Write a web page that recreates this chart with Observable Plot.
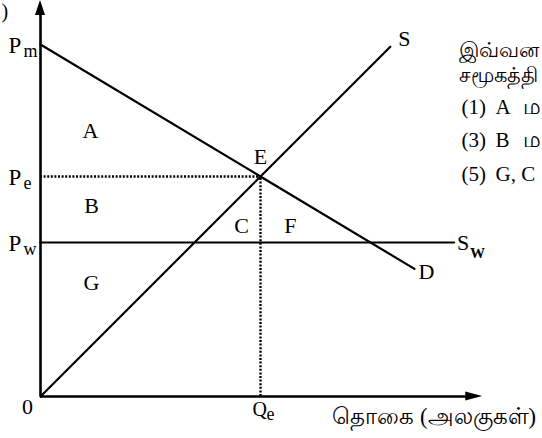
<!DOCTYPE html>
<html>
<head>
<meta charset="utf-8">
<script src="https://cdn.jsdelivr.net/npm/d3@7"></script>
<script src="https://cdn.jsdelivr.net/npm/@observablehq/plot@0.6"></script>
<style>
  html, body { margin: 0; padding: 0; background: #fff; }
  #chart svg { display: block; }
</style>
</head>
<body>
<div id="chart"></div>
<script>
// ---- values ----
const Pm = 16;          // demand intercept price
const Pe = 10;          // equilibrium price
const Pw = 7;           // world price
const Qe = 10;          // equilibrium quantity
const demandQ = [0, 17];
const demandP = [16, 5.8];
const supplyQ = [0, 15.9];
const supplyP = [0, 15.9];
const worldQ = [0, 18.8];
const worldP = [7, 7];
const yAxisTop = 18;
const xAxisEnd = 20.1;

const regionNames = ["A", "B", "C", "F", "G"];
const regionQ = [2.27, 2.32, 9.14, 11.36, 2.32];
const regionP = [11.77, 8.32, 7.45, 7.45, 4.86];

const priceLabels = ["P", "P", "P"];
const priceSubs = ["m", "e", "w"];
const priceValues = [Pm, Pe, Pw];

const xTitle = "தொகை (அலகுகள்)";
const sideLines = ["இவ்வன", "சமூகத்தி"];
const optionNums = ["(1)", "(3)", "(5)"];
const optionLetters = ["A", "B", "G, C"];
const optionTamil = ["ம", "ம", ""];

// ---- build tables ----
const demand = demandQ.map((q, i) => ({q, p: demandP[i]}));
const supply = supplyQ.map((q, i) => ({q, p: supplyP[i]}));
const world = worldQ.map((q, i) => ({q, p: worldP[i]}));
const regions = regionNames.map((t, i) => ({t, q: regionQ[i], p: regionP[i]}));
const prices = priceValues.map((v, i) => ({v, P: priceLabels[i], s: priceSubs[i]}));

const serif = "'Liberation Serif', 'Times New Roman', serif";
const hx = 0.227, hy = 0.2; // arrowhead half-widths in data units

// side text placement (pixel offsets from the top-left corner)
const sideBaselines = [56, 81];
const optionBaselines = [113, 146, 180];

const sideMarks = [
  ...sideLines.map((t, i) => Plot.text([t], {frameAnchor: "top-left", text: d => d, fontSize: 21, lineAnchor: "bottom", textAnchor: "start", dx: 458, dy: sideBaselines[i]})),
  ...optionNums.map((t, i) => Plot.text([t], {frameAnchor: "top-left", text: d => d, fontSize: 21, lineAnchor: "bottom", textAnchor: "start", dx: 461, dy: optionBaselines[i]})),
  ...optionLetters.map((t, i) => Plot.text([t], {frameAnchor: "top-left", text: d => d, fontSize: 21, lineAnchor: "bottom", textAnchor: "start", dx: 495, dy: optionBaselines[i]})),
  ...optionTamil.map((t, i) => Plot.text([t], {frameAnchor: "top-left", text: d => d, fontSize: 22, lineAnchor: "bottom", textAnchor: "start", dx: 522, dy: optionBaselines[i]}))
];

const chart = Plot.plot({
  width: 542,
  height: 438,
  margin: 0,
  x: {domain: [0, 20], range: [40, 480], axis: null},
  y: {domain: [0, 18], range: [396, 0], axis: null},
  style: {background: "white", fontFamily: serif, color: "black"},
  marks: [
    // axes
    Plot.ruleX([0], {y1: 0, y2: yAxisTop - 0.6, stroke: "black", strokeWidth: 2.6}),
    Plot.ruleY([0], {x1: 0, x2: xAxisEnd - 0.7, stroke: "black", strokeWidth: 2.6}),
    Plot.areaX([{y: yAxisTop - 0.68, x1: -hx, x2: hx}, {y: yAxisTop, x1: 0, x2: 0}],
      {y: "y", x1: "x1", x2: "x2", fill: "black"}),
    Plot.areaY([{x: xAxisEnd - 0.77, y1: -hy, y2: hy}, {x: xAxisEnd, y1: 0, y2: 0}],
      {x: "x", y1: "y1", y2: "y2", fill: "black"}),
    // dotted guides
    Plot.ruleY([Pe], {x1: 0, x2: Qe, stroke: "black", strokeWidth: 2.4, strokeDasharray: "2,1.6"}),
    Plot.ruleX([Qe], {y1: 0, y2: Pe, stroke: "black", strokeWidth: 2.4, strokeDasharray: "2,1.6"}),
    // curves
    Plot.line(world, {x: "q", y: "p", stroke: "black", strokeWidth: 2.2}),
    Plot.line(demand, {x: "q", y: "p", stroke: "black", strokeWidth: 2.2}),
    Plot.line(supply, {x: "q", y: "p", stroke: "black", strokeWidth: 2.2}),
    // region letters
    Plot.text(regions, {x: "q", y: "p", text: "t", fontSize: 22, lineAnchor: "bottom", fill: "black"}),
    // E
    Plot.text([{q: Qe, p: Pe}], {x: "q", y: "p", text: () => "E", fontSize: 22, lineAnchor: "bottom", dy: -13}),
    // curve labels
    Plot.text([supply[1]], {x: "q", y: "p", text: () => "S", fontSize: 22, lineAnchor: "bottom", dx: 14, dy: -1}),
    Plot.text([demand[1]], {x: "q", y: "p", text: () => "D", fontSize: 22, lineAnchor: "bottom", dx: 12, dy: 10}),
    Plot.text([world[1]], {x: "q", y: "p", text: () => "S", fontSize: 22, lineAnchor: "bottom", textAnchor: "start", dx: 3, dy: 7}),
    Plot.text([world[1]], {x: "q", y: "p", text: () => "W", fontSize: 15, fontWeight: "bold", lineAnchor: "bottom", textAnchor: "start", dx: 16, dy: 15}),
    // price labels
    Plot.text(prices, {x: 0, y: "v", text: "P", fontSize: 23, lineAnchor: "bottom", textAnchor: "start", dx: -32, dy: 8}),
    Plot.text(prices, {x: 0, y: "v", text: "s", fontSize: 18, lineAnchor: "bottom", textAnchor: "start", dx: -17, dy: 12}),
    // origin and Qe
    Plot.text([0], {x: 0, y: 0, text: () => "0", fontSize: 22, lineAnchor: "bottom", dx: -13, dy: 17}),
    Plot.text([Qe], {x: d => d, y: 0, text: () => "Q", fontSize: 20, lineAnchor: "bottom", textAnchor: "start", dx: -8, dy: 19}),
    Plot.text([Qe], {x: d => d, y: 0, text: () => "e", fontSize: 18, lineAnchor: "bottom", textAnchor: "start", dx: 6, dy: 23}),
    // x axis title
    Plot.text([xTitle], {x: 13.27, y: 0, text: d => d, fontSize: 22.5, lineAnchor: "bottom", textAnchor: "start", dy: 27}),
    // clipped y-axis title remnant
    Plot.text([")"], {frameAnchor: "top-left", text: d => d, fontSize: 20, lineAnchor: "bottom", textAnchor: "start", dx: 1, dy: 17}),
    ...sideMarks
  ]
});

document.getElementById("chart").appendChild(chart);
</script>
</body>
</html>
